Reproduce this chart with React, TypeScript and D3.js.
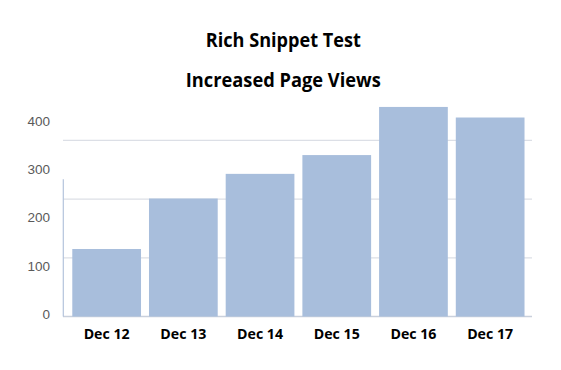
import React, { useEffect, useRef } from 'react';
import * as d3 from 'd3';

const days = ['Dec 12', 'Dec 13', 'Dec 14', 'Dec 15', 'Dec 16', 'Dec 17'];
const pageViews = [115, 201, 243, 275, 357, 339];
const gridValues = [0, 100, 200, 300];
const tickLabels = [0, 100, 200, 300, 400];
const titleLines = ['Rich Snippet Test', 'Increased Page Views'];

const App = () => {
    const ref = useRef(null);

    useEffect(() => {
        const svg = d3.select(ref.current);
        svg.selectAll('*').remove();

        const x = d3.scaleBand()
            .domain(days)
            .range([68.3, 528.5])
            .paddingInner(0.104)
            .paddingOuter(0.052);

        // scale for the plotted bars and gridlines
        const y = d3.scaleLinear().domain([0, 100]).range([316.5, 257.8]);
        // tick labels sit on their own spacing in the picture
        const yLabel = d3.scaleLinear().domain([0, 400]).range([314, 121.5]);

        svg.append('g')
            .selectAll('line')
            .data(gridValues)
            .enter().append('line')
            .attr('x1', 63)
            .attr('x2', 532)
            .attr('y1', d => y(d))
            .attr('y2', d => y(d))
            .attr('stroke', d => d === 0 ? '#c9d0dc' : '#dcdfe6')
            .attr('stroke-width', 1.3);

        svg.append('line')
            .attr('x1', 63.3)
            .attr('x2', 63.3)
            .attr('y1', y(234))
            .attr('y2', y(0))
            .attr('stroke', '#b4c3dc')
            .attr('stroke-width', 1.2);

        svg.append('g')
            .selectAll('rect')
            .data(pageViews)
            .enter().append('rect')
            .attr('x', (d, i) => x(days[i]))
            .attr('width', x.bandwidth())
            .attr('y', d => y(d))
            .attr('height', d => y(0) - y(d))
            .attr('fill', '#a8bedc');

        svg.append('g')
            .attr('font-family', 'Liberation Sans, Arial, sans-serif')
            .attr('font-size', 13.5)
            .attr('fill', '#5a5a5a')
            .attr('text-anchor', 'end')
            .selectAll('text')
            .data(tickLabels)
            .enter().append('text')
            .attr('x', 50)
            .attr('y', d => yLabel(d))
            .attr('dy', '0.35em')
            .text(d => d);

        svg.append('g')
            .attr('font-family', 'Open Sans, sans-serif')
            .attr('font-weight', 'bold')
            .attr('font-size', 14)
            .attr('fill', '#000')
            .attr('text-anchor', 'middle')
            .selectAll('text')
            .data(days)
            .enter().append('text')
            .attr('x', d => x(d) + x.bandwidth() / 2)
            .attr('y', 338.5)
            .attr('textLength', 46)
            .attr('lengthAdjust', 'spacingAndGlyphs')
            .text(d => d);

        const titleWidths = [155, 195];
        svg.append('g')
            .attr('font-family', 'Open Sans, sans-serif')
            .attr('font-weight', 'bold')
            .attr('font-size', 19.5)
            .attr('fill', '#000')
            .attr('text-anchor', 'middle')
            .selectAll('text')
            .data(titleLines)
            .enter().append('text')
            .attr('x', 283.3)
            .attr('y', (d, i) => 46.7 + i * 40)
            .attr('textLength', (d, i) => titleWidths[i])
            .attr('lengthAdjust', 'spacingAndGlyphs')
            .text(d => d);
    }, []);

    return (
        <svg
            ref={ref}
            width={561}
            height={370}
            style={{ position: 'absolute', left: 0, top: 0, background: '#fff' }}
        />
    );
};

export default App;
